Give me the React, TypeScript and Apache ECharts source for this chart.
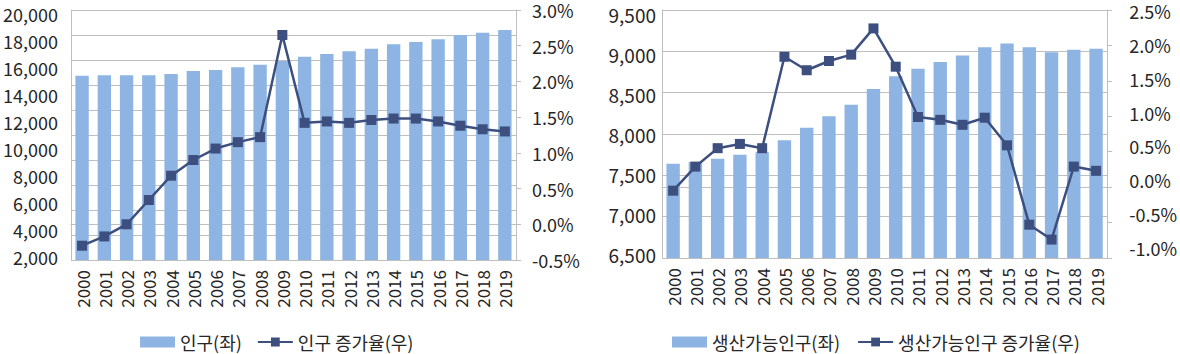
import React, { useEffect, useRef } from "react";
import * as echarts from "echarts";

const years = ["2000", "2001", "2002", "2003", "2004", "2005", "2006", "2007", "2008", "2009", "2010", "2011", "2012", "2013", "2014", "2015", "2016", "2017", "2018", "2019"];
const population = [15270, 15300, 15300, 15300, 15390, 15610, 15680, 15870, 16060, 16330, 16640, 16830, 17030, 17210, 17530, 17700, 17890, 18200, 18370, 18560];
const populationGrowth = [-0.30, -0.17, 0.0, 0.34, 0.68, 0.9, 1.06, 1.15, 1.22, 2.65, 1.42, 1.44, 1.42, 1.46, 1.48, 1.48, 1.44, 1.38, 1.33, 1.3];
const workingPop = [7640, 7660, 7700, 7750, 7780, 7925, 8075, 8215, 8355, 8545, 8700, 8790, 8870, 8950, 9050, 9095, 9050, 8990, 9020, 9030];
const workingGrowth = [-0.05, 0.29, 0.55, 0.61, 0.55, 1.84, 1.65, 1.78, 1.87, 2.24, 1.7, 0.99, 0.95, 0.88, 0.98, 0.59, -0.53, -0.74, 0.29, 0.23];

const popTicks = [2000, 4000, 6000, 8000, 10000, 12000, 14000, 16000, 18000, 20000];
const popGrowthTicks = [-0.5, 0, 0.5, 1.0, 1.5, 2.0, 2.5, 3.0];
const workTicks = [6500, 7000, 7500, 8000, 8500, 9000, 9500];
const workGrowthTicks = [-1.0, -0.5, 0, 0.5, 1.0, 1.5, 2.0, 2.5];

const names = {
  pop: "인구(좌)",
  popG: "인구 증가율(우)",
  work: "생산가능인구(좌)",
  workG: "생산가능인구 증가율(우)",
};

const FONT = "'Noto Sans CJK KR', 'Noto Sans', sans-serif";
const TEXT = "#262626";
const GRID = "#BFBFBF";
const BAR = "#8DB4E2";
const LINE = "#3C4F7F";

export default function App() {
  const ref = useRef<HTMLDivElement>(null);
  useEffect(() => {
    if (!ref.current) return;
    const chart = echarts.init(ref.current, null, { renderer: "svg" });
    const lbl = { color: TEXT, fontSize: 18, fontFamily: FONT };
    const comma = (v: number) => Math.round(v).toLocaleString("en-US");
    const pct = (v: number) => v.toFixed(1) + "%";
    const xAx = (gi: number) => ({
      type: "category",
      gridIndex: gi,
      data: years,
      axisLine: { show: true, lineStyle: { color: GRID, width: 1 } },
      axisTick: { show: false },
      axisLabel: { ...lbl, fontSize: 17, rotate: 90, interval: 0, margin: 10 },
    });
    // axes that only carry the tick labels (placed as in the reference)
    const labelAxis = (gi: number, position: string, min: number, max: number, values: number[], fmt: any, margin: number, fontSize = 18) => ({
      type: "value", gridIndex: gi, position, min, max,
      axisLine: { show: false }, axisTick: { show: false }, splitLine: { show: false },
      axisLabel: { ...lbl, fontSize, margin, customValues: values, formatter: fmt, showMinLabel: true, showMaxLabel: true },
    });
    const option: any = {
      animation: false,
      textStyle: { fontFamily: FONT },
      grid: [
        { left: 68, top: 10, width: 448, height: 250 },
        { left: 662, top: 10, width: 449, height: 248 },
      ],
      xAxis: [xAx(0), xAx(1)],
      yAxis: [
        // 0: left chart value axis
        {
          type: "value", gridIndex: 0, position: "left", min: 2000, max: 20000, interval: 2000,
          axisLine: { show: true, lineStyle: { color: GRID } },
          axisTick: { show: false },
          splitLine: { show: false },
          axisLabel: { show: false },
        },
        // 1: left chart growth axis
        {
          type: "value", gridIndex: 0, position: "right", min: -0.5, max: 3.0, interval: 0.5,
          axisLine: { show: true, lineStyle: { color: GRID } },
          axisTick: { show: true, length: 5, lineStyle: { color: GRID } },
          splitLine: { show: false },
          axisLabel: { ...lbl, margin: 16, formatter: pct },
        },
        // 2: left chart gridlines
        {
          type: "value", gridIndex: 0, position: "left", min: 0, max: 10, interval: 1,
          axisLine: { show: false }, axisTick: { show: false }, axisLabel: { show: false },
          splitLine: { show: true, lineStyle: { color: GRID, width: 1 } },
        },
        // 3: right chart value axis
        {
          type: "value", gridIndex: 1, position: "left", min: 6500, max: 9500, interval: 500,
          axisLine: { show: true, lineStyle: { color: GRID } },
          axisTick: { show: false },
          splitLine: { show: true, lineStyle: { color: GRID, width: 1 } },
          axisLabel: { show: false },
        },
        // 4: right chart growth axis
        {
          type: "value", gridIndex: 1, position: "right", min: -1.0, max: 2.5, interval: 0.5,
          axisLine: { show: true, lineStyle: { color: GRID } },
          axisTick: { show: true, length: 5, lineStyle: { color: GRID } },
          splitLine: { show: false },
          axisLabel: { show: false },
        },
        // label axes
        labelAxis(0, "left", 1778, 20296, popTicks, comma, 13),
        labelAxis(1, "left", 6459, 9550, workTicks, comma, 6, 19),
        labelAxis(1, "right", -1.147, 2.515, workGrowthTicks, pct, 22),
      ],
      legend: [
        {
          data: [{ name: names.pop, icon: "rect" }, { name: names.popG }],
          left: 135, top: 328, itemWidth: 35, itemHeight: 11, itemGap: 15,
          textStyle: { ...lbl, fontSize: 18 },
        },
        {
          data: [{ name: names.work, icon: "rect" }, { name: names.workG }],
          left: 667, top: 328, itemWidth: 35, itemHeight: 11, itemGap: 17,
          textStyle: { ...lbl, fontSize: 18 },
        },
      ],
      series: [
        {
          name: names.pop, type: "bar", xAxisIndex: 0, yAxisIndex: 0, data: population,
          barCategoryGap: "40%", itemStyle: { color: BAR },
        },
        {
          name: names.popG, type: "line", xAxisIndex: 0, yAxisIndex: 1, data: populationGrowth,
          symbol: "rect", symbolSize: 10, itemStyle: { color: LINE },
          lineStyle: { color: LINE, width: 2.5 },
        },
        {
          name: names.work, type: "bar", xAxisIndex: 1, yAxisIndex: 3, data: workingPop,
          barCategoryGap: "40%", itemStyle: { color: BAR },
        },
        {
          name: names.workG, type: "line", xAxisIndex: 1, yAxisIndex: 4, data: workingGrowth,
          symbol: "rect", symbolSize: 10, itemStyle: { color: LINE },
          lineStyle: { color: LINE, width: 2.5 },
        },
      ],
    };
    chart.setOption(option);
    return () => chart.dispose();
  }, []);
  return (
    <div
      ref={ref}
      style={{ position: "absolute", left: 0, top: 0, width: 1180, height: 354, background: "#fff" }}
    />
  );
}
